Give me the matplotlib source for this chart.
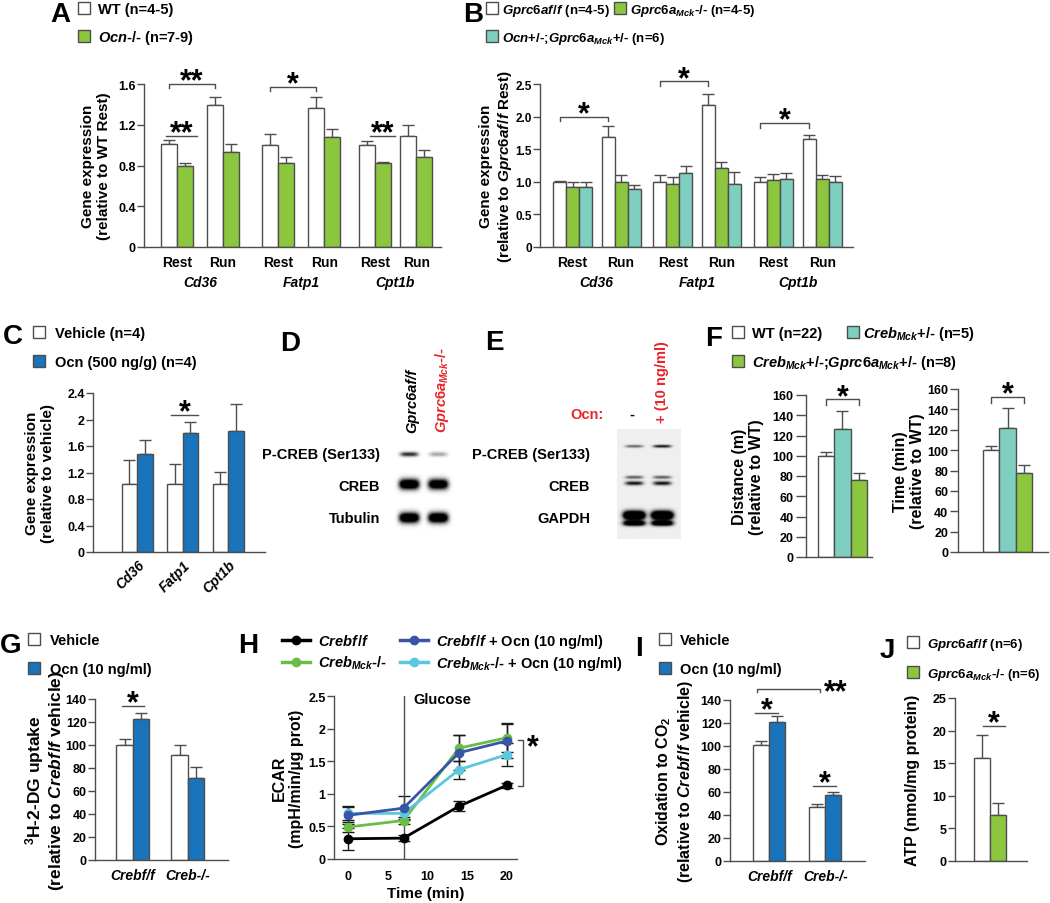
import numpy as np
import matplotlib
matplotlib.use('Agg')
import matplotlib.pyplot as plt
from matplotlib.patches import Rectangle
from matplotlib.lines import Line2D

plt.rcParams.update({
    'font.family': ['Liberation Sans', 'DejaVu Sans'],
    'font.weight': 'bold',
    'axes.labelweight': 'bold',
    'mathtext.fontset': 'custom',
    'mathtext.rm': 'Liberation Sans:bold',
    'mathtext.it': 'Liberation Sans:italic:bold',
    'mathtext.bf': 'Liberation Sans:bold',
    'mathtext.default': 'rm',
})

# ---------------- data ----------------
# A: gene expression, WT vs Ocn-/-
a_cond = ['Rest', 'Run', 'Rest', 'Run', 'Rest', 'Run']
a_genes = ['Cd36', 'Fatp1', 'Cpt1b']
a_wt = [1.01, 1.39, 1.00, 1.36, 1.00, 1.09]
a_wt_err = [0.04, 0.08, 0.11, 0.11, 0.04, 0.11]
a_ko = [0.80, 0.93, 0.82, 1.08, 0.82, 0.88]
a_ko_err = [0.02, 0.08, 0.06, 0.08, 0.01, 0.07]
a_ticks = [0, 0.4, 0.8, 1.2, 1.6]
a_ticklabels = ['0', '0.4', '0.8', '1.2', '1.6']

# B: Gprc6af/f, Gprc6a Mck-/-, Ocn+/-;Gprc6a Mck+/-
b_cond = ['Rest', 'Run', 'Rest', 'Run', 'Rest', 'Run']
b_genes = ['Cd36', 'Fatp1', 'Cpt1b']
b_ff = [1.00, 1.68, 0.99, 2.18, 0.99, 1.66]
b_ff_err = [0.01, 0.18, 0.11, 0.17, 0.08, 0.06]
b_ko = [0.92, 0.99, 0.97, 1.21, 1.03, 1.04]
b_ko_err = [0.08, 0.12, 0.10, 0.09, 0.09, 0.06]
b_het = [0.92, 0.89, 1.14, 0.97, 1.04, 0.99]
b_het_err = [0.08, 0.06, 0.10, 0.18, 0.09, 0.10]
b_ticks = [0, 0.5, 1.0, 1.5, 2.0, 2.5]
b_ticklabels = ['0', '0.5', '1.0', '1.5', '2.0', '2.5']

# C: vehicle vs Ocn
c_genes = ['Cd36', 'Fatp1', 'Cpt1b']
c_veh = [1.02, 1.02, 1.02]
c_veh_err = [0.37, 0.31, 0.19]
c_ocn = [1.48, 1.79, 1.83]
c_ocn_err = [0.21, 0.17, 0.40]
c_ticks = [0, 0.4, 0.8, 1.2, 1.6, 2.0, 2.4]
c_ticklabels = ['0', '0.4', '0.8', '1.2', '1.6', '2', '2.4']

# D / E: western blots (band darkness per lane)
d_rows = ['P-CREB (Ser133)', 'CREB', 'Tubulin']
d_pcreb = [0.85, 0.35]
d_creb = [1.6, 1.5]
d_tub = [1.6, 1.6]
e_rows = ['P-CREB (Ser133)', 'CREB', 'GAPDH']
e_pcreb = [0.55, 0.9]
e_creb_up = [0.6, 0.6]
e_creb_lo = [0.9, 0.9]
e_gapdh = [2.0, 2.0]
e_gapdh_lo = [1.5, 1.5]

# F: endurance
f_dist = [100, 126, 76]
f_dist_err = [4, 18, 7]
f_time = [100, 122, 78]
f_time_err = [4, 19, 7]
f_ticks = [0, 20, 40, 60, 80, 100, 120, 140, 160]

# G: 3H-2-DG uptake
g_groups = ['Crebf/f', 'Creb-/-']
g_veh = [100, 91]
g_veh_err = [5, 9]
g_ocn = [123, 71]
g_ocn_err = [5, 10]
g_ticks = [0, 20, 40, 60, 80, 100, 120, 140]

# H: ECAR
h_time = [0, 7, 14, 20]
h_ff = [0.31, 0.32, 0.81, 1.13]
h_ff_err = [0.17, 0.05, 0.08, 0.04]
h_ko = [0.49, 0.59, 1.70, 1.86]
h_ko_err = [0.08, 0.06, 0.20, 0.22]
h_ff_ocn = [0.67, 0.78, 1.63, 1.81]
h_ff_ocn_err = [0.14, 0.18, 0.27, 0.26]
h_ko_ocn = [0.70, 0.70, 1.37, 1.60]
h_ko_ocn_err = [0.10, 0.08, 0.14, 0.18]
h_yticks = [0, 0.5, 1, 1.5, 2, 2.5]
h_yticklabels = ['0', '0.5', '1', '1.5', '2', '2.5']
h_xticks = [0, 5, 10, 15, 20]

# I: oxidation to CO2
i_groups = ['Crebf/f', 'Creb-/-']
i_veh = [101, 47]
i_veh_err = [3, 3]
i_ocn = [121, 57]
i_ocn_err = [5, 3]
i_ticks = [0, 20, 40, 60, 80, 100, 120, 140]

# J: ATP
j_vals = [15.8, 7.0]
j_err = [3.6, 1.9]
j_ticks = [0, 5, 10, 15, 20, 25]

WHITE = 'white'
GREEN = '#8cc63f'
TEAL = '#7fcfc0'
BLUE = '#1a74bb'
RED = '#e8252b'
EDGE = '#4d4d4d'

FF = r'$\mathit{Gprc6af}\hspace{0.07}\mathit{/f}$'
MCK = r'$\mathit{Gprc6a}_{\mathit{Mck}}$'
CREBFF = r'$\mathit{Crebf}\hspace{0.07}\mathit{/f}$'
CREBMCK = r'$\mathit{Creb}_{\mathit{Mck}}$'

W, H = 1050, 904
fig = plt.figure(figsize=(W / 100, H / 100), dpi=100)


def axes_px(l, t, r, b):
    return fig.add_axes([l / W, 1 - b / H, (r - l) / W, (b - t) / H])


def ftext(x, y, s, **kw):
    return fig.text(x / W, 1 - y / H, s, **kw)


def style(ax, ylim, xlim, yticks, ylabels=None, ysize=9):
    for sp in ['top', 'right']:
        ax.spines[sp].set_visible(False)
    for sp in ['left', 'bottom']:
        ax.spines[sp].set_color(EDGE)
        ax.spines[sp].set_linewidth(1)
    ax.set_ylim(*ylim)
    ax.set_xlim(*xlim)
    ax.set_yticks(yticks, ylabels if ylabels else [str(t) for t in yticks])
    ax.tick_params(axis='y', direction='out', length=5, width=1, color=EDGE,
                   labelsize=ysize, pad=1)
    ax.tick_params(axis='x', length=0, labelsize=10, pad=6)
    ax.patch.set_alpha(0)


def ylab(ax, text, right_px, fs=11, **kw):
    # place the y label so that its right edge sits at right_px
    ax.set_ylabel(text, fontsize=fs, **kw)
    pos = ax.get_position()
    ax.yaxis.set_label_coords((right_px - pos.x0 * W) / (pos.width * W), 0.5)


def bars(ax, x, vals, errs, color, w):
    ax.bar(x, vals, w, color=color, edgecolor=EDGE, linewidth=1, zorder=2)
    ax.errorbar(x, vals, yerr=[np.zeros(len(errs)), errs], fmt='none',
                ecolor=EDGE, elinewidth=1, capsize=4, capthick=1, zorder=1)


def sig(ax, x0, x1, y, star, drop=0, fs=22, off=-4):
    ax.plot([x0, x0, x1, x1], [y - drop, y, y, y - drop], color=EDGE, lw=1,
            clip_on=False)
    ax.annotate(star, xy=((x0 + x1) / 2, y), xytext=(0, off),
                textcoords='offset points', ha='center', va='baseline',
                fontsize=fs, annotation_clip=False)


def legend_box(x, y, color, label, gap=20, size=12, fs=10.5):
    fig.add_artist(Rectangle((x / W, 1 - (y + size / 2) / H), size / W, size / H,
                             transform=fig.transFigure, facecolor=color,
                             edgecolor=EDGE, lw=1))
    ftext(x + gap, y + 5, label, fontsize=fs, va='baseline')


def letter(x, y, s):
    ftext(x, y, s, fontsize=20, va='top', ha='left')


def blot(box, lanes, bands, bg):
    l, t, r, b = box
    ax = axes_px(l, t, r, b)
    X, Y = np.meshgrid(np.arange(l, r, 0.5), np.arange(t, b, 0.5))
    img = np.full(X.shape, bg)
    for yc, sy, hw, amps in bands:
        for xc, a in zip(lanes, amps):
            img -= a * np.exp(-0.5 * ((Y - yc) / sy) ** 2) * np.exp(-np.abs((X - xc) / hw) ** 4)
    ax.imshow(np.clip(img, 0, 1), cmap='gray', vmin=0, vmax=1,
              extent=[l, r, b, t], aspect='auto', interpolation='bilinear')
    ax.axis('off')


# ---------------- A ----------------
ax = axes_px(144, 85, 441, 248)
a_pos = np.array([0, 1, 2.2, 3.2, 4.3, 5.2])
w = 0.35
bars(ax, a_pos - w / 2, a_wt, a_wt_err, WHITE, w)
bars(ax, a_pos + w / 2, a_ko, a_ko_err, GREEN, w)
style(ax, (0, 1.6), (-0.72, 5.74), a_ticks, a_ticklabels)
ax.set_xticks(a_pos, a_cond)
for i, g in enumerate(a_genes):
    ax.text(a_pos[2 * i:2 * i + 2].mean(), -0.215, g, transform=ax.get_xaxis_transform(),
            ha='center', va='center', style='italic', fontsize=10)
ylab(ax, 'Gene expression\n(relative to WT Rest)', 111)
sig(ax, a_pos[0] - w / 2, a_pos[1] - w / 2, 1.6, '**', drop=0.04)
sig(ax, -0.24, 0.43, 1.09, '**')
sig(ax, a_pos[2] - w / 2, a_pos[3] - w / 2, 1.57, '*', drop=0.04)
sig(ax, 4.2, 4.74, 1.09, '**')
letter(50, 2, 'A')
legend_box(78, 9, WHITE, 'WT (n=4-5)')
legend_box(78, 37, GREEN, r'$\mathit{Ocn}$-/- (n=7-9)')

# ---------------- B ----------------
ax = axes_px(540, 85, 853, 248)
b_pos = np.array([0, 1, 2.07, 3.07, 4.14, 5.15])
w = 0.268
bars(ax, b_pos - w, b_ff, b_ff_err, WHITE, w)
bars(ax, b_pos, b_ko, b_ko_err, GREEN, w)
bars(ax, b_pos + w, b_het, b_het_err, TEAL, w)
style(ax, (0, 2.5), (-0.67, 5.78), b_ticks, b_ticklabels, ysize=8.5)
ax.set_xticks(b_pos, b_cond)
for i, g in enumerate(b_genes):
    ax.text(b_pos[2 * i:2 * i + 2].mean(), -0.215, g, transform=ax.get_xaxis_transform(),
            ha='center', va='center', style='italic', fontsize=10)
ylab(ax, 'Gene expression\n(relative to ' + FF + ' Rest)', 514)
sig(ax, b_pos[0] - w, b_pos[1] - w, 2.0, '*', drop=0.07)
sig(ax, b_pos[2] - w, b_pos[3] - w, 2.54, '*', drop=0.07)
sig(ax, b_pos[4] - w, b_pos[5] - w, 1.9, '*', drop=0.07)
letter(463, 2, 'B')
legend_box(486, 9, WHITE, FF + ' (n=4-5)', gap=16, fs=9.5)
legend_box(614, 9, GREEN, MCK + '-/- (n=4-5)', gap=16, fs=9.5)
legend_box(486, 37, TEAL, r'$\mathit{Ocn}$+/-;' + MCK + '+/- (n=6)', gap=16, fs=9.5)

# ---------------- C ----------------
ax = axes_px(93, 394, 265, 553)
c_pos = np.arange(len(c_genes))
w = 0.34
bars(ax, c_pos - w / 2, c_veh, c_veh_err, WHITE, w)
bars(ax, c_pos + w / 2, c_ocn, c_ocn_err, BLUE, w)
style(ax, (0, 2.4), (-0.97, 2.81), c_ticks, c_ticklabels)
ax.set_xticks(c_pos, c_genes, rotation=45, ha='right', rotation_mode='anchor',
              style='italic')
ax.tick_params(axis='x', pad=4)
ylab(ax, 'Gene expression\n(relative to vehicle)', 55)
sig(ax, 0.75, 1.34, 2.07, '*')
letter(3, 324, 'C')
legend_box(33, 333, WHITE, 'Vehicle (n=4)', gap=22)
legend_box(33, 362, BLUE, 'Ocn (500 ng/g) (n=4)', gap=22)

# ---------------- D ----------------
letter(280, 331, 'D')
blot((392, 442, 457, 532), [409, 438],
     [(455, 1.6, 9, d_pcreb), (485, 3.6, 10, d_creb), (518.5, 3.6, 10, d_tub)], 1.0)
for yy, s in zip([455, 487, 519], d_rows):
    ftext(380, yy, s, fontsize=10.5, ha='right', va='center')
ftext(412, 433, 'Gprc6af/f', fontsize=10.5, rotation=90, style='italic',
      ha='center', va='bottom')
ftext(442, 433, MCK + '-/-', fontsize=10.5, rotation=90,
      ha='center', va='bottom', color=RED)

# ---------------- E ----------------
letter(485, 330, 'E')
blot((617, 430, 681, 540), [634, 662],
     [(447, 1.0, 9, e_pcreb), (478, 1.1, 9, e_creb_up), (484, 1.4, 9, e_creb_lo),
      (516, 3.0, 11, e_gapdh), (524, 1.8, 11, e_gapdh_lo)], 0.94)
for yy, s in zip([455, 487, 519], e_rows):
    ftext(590, yy, s, fontsize=10.5, ha='right', va='center')
ftext(604, 415, 'Ocn:', fontsize=10.5, ha='right', va='center', color=RED)
ftext(632, 415, '-', fontsize=10.5, ha='center', va='center')
ftext(662, 423, '+ (10 ng/ml)', fontsize=10.5, rotation=90, ha='center',
      va='bottom', color=RED)

# ---------------- F ----------------
ax = axes_px(806, 396, 872, 558)
f_pos = np.arange(3)
bars(ax, f_pos, f_dist, f_dist_err, [WHITE, TEAL, GREEN], 1.0)
style(ax, (0, 160), (-1.21, 2.79), f_ticks)
ax.tick_params(axis='y', length=7, pad=2)
ax.set_xticks([])
ylab(ax, 'Distance (m)\n(relative to WT)', 764, fs=11.5)
sig(ax, 0, 2, 155.7, '*', drop=6)

ax = axes_px(958, 390, 1048, 553)
bars(ax, f_pos, f_time, f_time_err, [WHITE, TEAL, GREEN], 1.0)
style(ax, (0, 160), (-2.0, 3.45), f_ticks)
ax.tick_params(axis='y', length=6, pad=1)
ax.set_xticks([])
ylab(ax, 'Time (min)\n(relative to WT)', 925, fs=11.5)
sig(ax, 0, 2, 152.5, '*', drop=6)
letter(705, 326, 'F')
legend_box(732, 333, WHITE, 'WT (n=22)')
legend_box(847, 333, TEAL, CREBMCK + '+/- (n=5)', gap=16)
legend_box(732, 362, GREEN, CREBMCK + '+/-;' + MCK + '+/- (n=8)')

# ---------------- G ----------------
ax = axes_px(95, 700, 228, 861)
g_pos = np.arange(2)
w = 0.3
bars(ax, g_pos - w / 2, g_veh, g_veh_err, WHITE, w)
bars(ax, g_pos + w / 2, g_ocn, g_ocn_err, BLUE, w)
style(ax, (0, 140), (-0.69, 1.73), g_ticks)
ax.set_xticks(g_pos, g_groups, style='italic')
ylab(ax, r'$^{3}$H-2-DG uptake' + '\n(relative to ' + CREBFF + ' vehicle)', 66,
     fs=12.5, linespacing=1.1)
sig(ax, -0.2, 0.2, 134, '*')
letter(0, 633, 'G')
legend_box(28, 640, WHITE, 'Vehicle', gap=22)
legend_box(28, 669, BLUE, 'Ocn (10 ng/ml)', gap=22)

# ---------------- H ----------------
ax = axes_px(334, 697, 517, 860)
h_series = [
    (h_ff, h_ff_err, 'black'),
    (h_ko, h_ko_err, '#6abd45'),
    (h_ko_ocn, h_ko_ocn_err, '#5cc6df'),
    (h_ff_ocn, h_ff_ocn_err, '#3b55a6'),
]
for vals, errs, c in h_series:
    ax.errorbar(h_time, vals, yerr=errs, color=c, marker='o', ms=6, lw=2,
                ecolor='#1a1a1a', elinewidth=1, capsize=4, capthick=1, clip_on=False)
style(ax, (0, 2.5), (-1.76, 21.3), h_yticks, h_yticklabels)
ax.set_xticks(h_xticks, [str(t) for t in h_xticks])
ax.tick_params(axis='x', labelsize=9, pad=8)
ax.axvline(7, color=EDGE, lw=1)
ax.text(8.2, 2.45, 'Glucose', va='center', ha='left', fontsize=10.5)
ylab(ax, 'ECAR\n(mpH/min/µg prot)', 304, fs=11.5)
ax.set_xlabel('Time (min)', fontsize=11, labelpad=3)
ax.plot([21.4, 22.1, 22.1, 21.4], [1.83, 1.83, 1.12, 1.12], color=EDGE, lw=1, clip_on=False)
ax.text(23.3, 1.72, '*', ha='center', va='center', fontsize=22, clip_on=False)
letter(238, 633, 'H')
h_leg = [
    (282, 641, 'black', CREBFF),
    (282, 663, '#6abd45', CREBMCK + '-/-'),
    (400, 641, '#3b55a6', CREBFF + ' + Ocn (10 ng/ml)'),
    (400, 663, '#5cc6df', CREBMCK + '-/- + Ocn (10 ng/ml)'),
]
for x0, y0, c, s in h_leg:
    fig.add_artist(Line2D([x0 / W, (x0 + 28) / W], [1 - y0 / H] * 2, color=c, lw=2.5,
                          transform=fig.transFigure))
    fig.add_artist(Line2D([(x0 + 14) / W], [1 - y0 / H], color=c, marker='o', ms=6,
                          transform=fig.transFigure))
    ftext(x0 + 36, y0 + 5, s, fontsize=10.5, va='baseline')

# ---------------- I ----------------
ax = axes_px(730, 701, 865, 862)
i_pos = np.arange(2)
w = 0.29
bars(ax, i_pos - w / 2, i_veh, i_veh_err, WHITE, w)
bars(ax, i_pos + w / 2, i_ocn, i_ocn_err, BLUE, w)
style(ax, (0, 140), (-0.70, 1.71), i_ticks)
ax.set_xticks(i_pos, i_groups, style='italic')
ylab(ax, r'Oxidation to CO$_{2}$' + '\n(relative to ' + CREBFF + ' vehicle)', 695,
     fs=11.5)
sig(ax, -0.25, 0.16, 129, '*')
sig(ax, 0.79, 1.2, 65.5, '*')
ax.plot([-0.21, -0.21, 0.91, 0.91], [146.6, 149.6, 149.6, 146.6], color=EDGE, lw=1,
        clip_on=False)
ax.text(1.18, 147, '**', ha='center', va='center', fontsize=22, clip_on=False)
letter(635, 636, 'I')
legend_box(659, 640, WHITE, 'Vehicle', gap=21)
legend_box(659, 669, BLUE, 'Ocn (10 ng/ml)', gap=21)

# ---------------- J ----------------
ax = axes_px(955, 699, 1027, 862)
j_pos = np.arange(2)
bars(ax, j_pos, j_vals, j_err, [WHITE, GREEN], 1.0)
style(ax, (0, 25), (-1.69, 2.81), j_ticks)
ax.set_xticks([])
ylab(ax, 'ATP (nmol/mg protein)', 920, fs=11.5)
sig(ax, 0.05, 1.45, 20.7, '*')
letter(880, 638, 'J')
legend_box(907, 643, WHITE, FF + ' (n=6)', gap=20, fs=9.5)
legend_box(907, 673, GREEN, MCK + '-/- (n=6)', gap=20, fs=9.5)

fig.savefig('out.png', dpi=100)
